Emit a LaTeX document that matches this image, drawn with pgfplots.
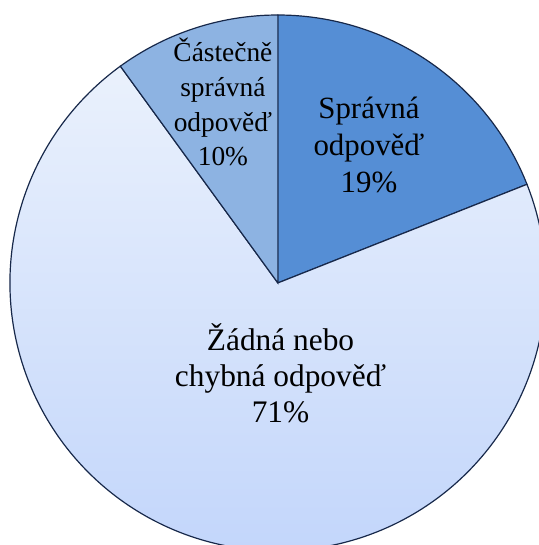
\documentclass[border=0pt]{standalone}
\usepackage{fontspec}
\setmainfont{Liberation Serif}
\usepackage{pgfplots}
\pgfplotsset{compat=1.18}
\definecolor{cSpr}{HTML}{558ED5}
\definecolor{cCas}{HTML}{8DB3E2}
\definecolor{cZadTop}{HTML}{EAF1FC}
\definecolor{cZadBot}{HTML}{C3D6FB}
\definecolor{cEdge}{HTML}{17284A}
% values in percent
\def\vSpr{19}
\def\vZad{71}
\def\vCas{10}
\begin{document}
\begin{tikzpicture}
\begin{axis}[
  name=pie,
  x=268bp, y=268bp,
  xmin=-1.037, xmax=0.974,
  ymin=-0.978, ymax=1.056,
  hide axis, clip=true,
]
% Spravna: 90 -> 90-3.6*19
\addplot[fill=cSpr, draw=cEdge, line width=1.2pt, domain={90-3.6*\vSpr}:90, samples=90, variable=\t]
  ({cos(t)},{sin(t)}) -- (axis cs:0,0) -- cycle;
% Zadna
\addplot[top color=cZadTop, bottom color=cZadBot, draw=cEdge, line width=1.2pt,
  domain={90-3.6*(\vSpr+\vZad)}:{90-3.6*\vSpr}, samples=240, variable=\t]
  ({cos(t)},{sin(t)}) -- (axis cs:0,0) -- cycle;
% Castecne
\addplot[fill=cCas, draw=cEdge, line width=1.2pt,
  domain=90:{90+3.6*\vCas}, samples=40, variable=\t]
  ({cos(t)},{sin(t)}) -- (axis cs:0,0) -- cycle;
\node[align=center, font=\fontsize{31}{37}\selectfont, inner sep=0pt] at (axis cs:0.34,0.515) {Správná\\odpověď\\\vSpr\%};
\node[align=center, font=\fontsize{31.5}{36}\selectfont, inner sep=0pt] at (axis cs:0.01,-0.338) {Žádná nebo\\chybná odpověď\\\vZad\%};
\node[align=center, font=\fontsize{27.5}{35}\selectfont, inner sep=0pt] at (axis cs:-0.205,0.675) {Částečně\\správná\\odpověď\\\vCas\%};
\end{axis}
\pgfresetboundingbox
\useasboundingbox (pie.south west) rectangle (pie.north east);
\end{tikzpicture}
\end{document}
